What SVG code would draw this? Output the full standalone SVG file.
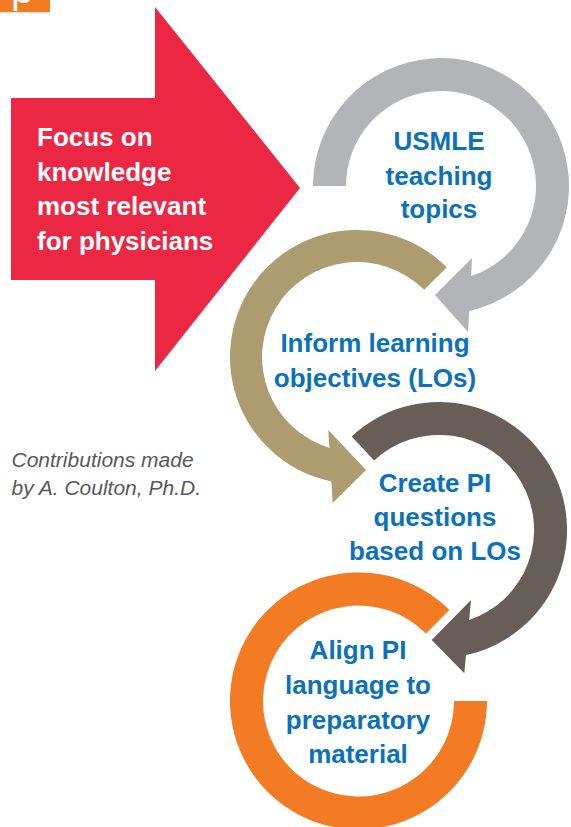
<svg xmlns="http://www.w3.org/2000/svg" width="571" height="827" viewBox="0 0 571 827">
  <style>
    .lbl { font-family: "Liberation Sans", Arial, sans-serif; font-weight: bold; font-size: 26px; }
    .blue { fill: #0B72B9; text-anchor: middle; }
    .white { fill: #FFFFFF; }
    .note { font-family: "Liberation Sans", Arial, sans-serif; font-style: italic; font-size: 21px; fill: #58595B; }
  </style>
  <defs>
    <clipPath id="tabClip">
      <rect x="0" y="0" width="50" height="12.5"/>
    </clipPath>
  </defs>
  <rect width="571" height="827" fill="#FFFFFF"/>

  <!-- orange page tab in the top-left corner -->
  <g id="tab" clip-path="url(#tabClip)">
    <rect x="0" y="0" width="50" height="12.5" fill="#F37B23"/>
    <text x="11" y="3" font-family="Liberation Sans, Arial, sans-serif" font-size="40" fill="#FFFFFF">p</text>
  </g>

  <!-- big red arrow -->
  <g id="focus">
    <polygon points="11,98 155,98 155,7 300,188 155,371 155,280 11,280" fill="#EC2744"/>
    <text class="lbl white" x="37" y="146">Focus on</text>
    <text class="lbl white" x="37" y="180.7">knowledge</text>
    <text class="lbl white" x="37" y="215.4">most relevant</text>
    <text class="lbl white" x="37" y="250">for physicians</text>
  </g>

  <!-- step 1: gray circular arrow -->
  <g id="usmle">
    <path d="M313,186 A128,128 0 1 1 469.2,310.9 L468,332 L435,295 L472,258 L471,276.1 A95,95 0 1 0 346,186 Z" fill="#B2B4B7"/>
    <text class="lbl blue" x="439" y="150">USMLE</text>
    <text class="lbl blue" x="439" y="184.5">teaching</text>
    <text class="lbl blue" x="439" y="218">topics</text>
  </g>

  <!-- step 2: tan circular arrow -->
  <g id="inform">
    <path d="M446.8,267.2 A127,127 0 1 0 331.4,481.4 L332.7,503 L366,470 L328.3,430 L329.4,447.9 A95,95 0 1 1 424.2,289.8 Z" fill="#AD9C6F"/>
    <text class="lbl blue" x="375" y="351.7">Inform learning</text>
    <text class="lbl blue" x="375" y="386.7">objectives (LOs)</text>
  </g>

  <!-- step 3: dark brown circular arrow -->
  <g id="create">
    <path d="M351.7,436.4 A128,128 0 1 1 466,655.1 L464.3,673.3 L431.7,640 L471,600 L469.2,620 A95,95 0 1 0 374.2,460.5 Z" fill="#675E58"/>
    <text class="lbl blue" x="435" y="491.5">Create PI</text>
    <text class="lbl blue" x="435" y="526">questions</text>
    <text class="lbl blue" x="435" y="560">based on LOs</text>
  </g>

  <!-- step 4: orange open ring -->
  <g id="align">
    <path d="M449.4,610.1 A128.5,128.5 0 1 0 487,701 L454,701 A95.5,95.5 0 1 1 426,633.5 Z" fill="#F37B23"/>
    <text class="lbl blue" x="358" y="659">Align PI</text>
    <text class="lbl blue" x="358" y="694">language to</text>
    <text class="lbl blue" x="358" y="728.5">preparatory</text>
    <text class="lbl blue" x="358" y="763">material</text>
  </g>

  <!-- the ring arrows above carry the flow between steps -->
  <g id="connectors"/>

  <!-- credit line -->
  <g id="credit">
    <text class="note" x="11.5" y="466.5">Contributions made</text>
    <text class="note" x="11.5" y="495">by A. Coulton, Ph.D.</text>
  </g>
</svg>
